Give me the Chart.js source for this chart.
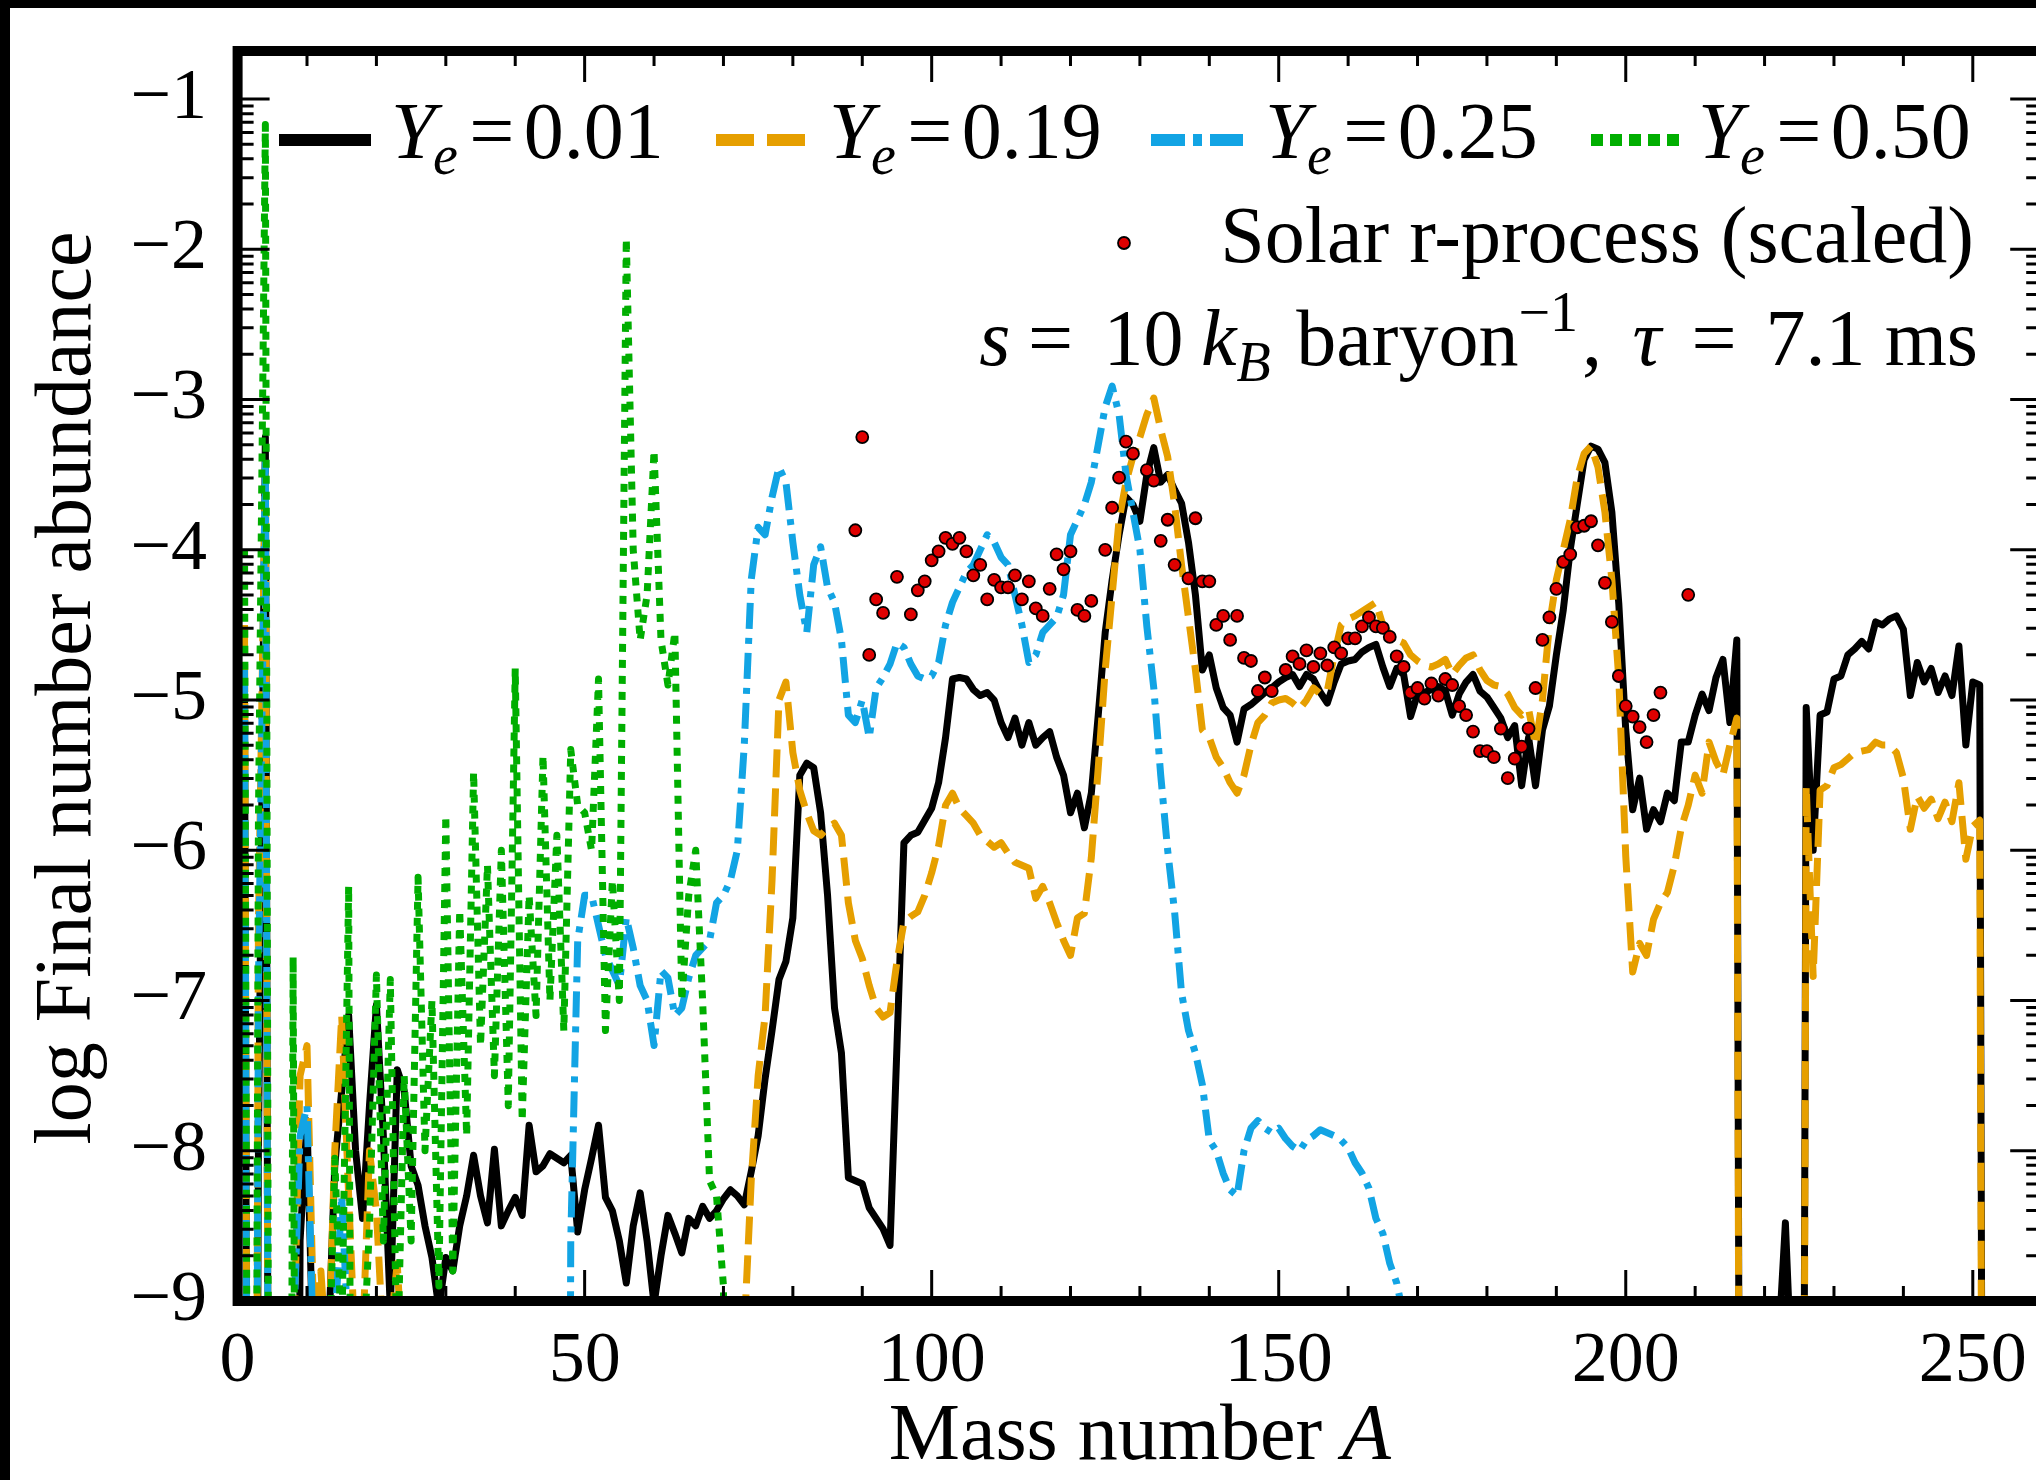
<!DOCTYPE html>
<html>
<head>
<meta charset="utf-8">
<title>Final abundances versus mass number</title>
<script src="https://cdn.jsdelivr.net/npm/chart.js@4.4.1/dist/chart.umd.min.js"></script>
<style>
  html, body { margin: 0; padding: 0; width: 2036px; height: 1480px; overflow: hidden; background: #000; }
  #wrap { position: absolute; left: 10px; top: 8px; width: 2040px; height: 1472px; background: #fff; }
  canvas { display: block; }
</style>
</head>
<body>
<div id="wrap"><canvas id="chart" width="2040" height="1472"></canvas></div>
<script>
// log10 abundance used for nuclei that fall far below the plotted range
const L = -20;

// every series starts at mass number A = 1 and has one value per integer A
const firstMassNumber = 1;

// Ye = 0.01
const abundYe001 = [
  -5.0, L, -8.0, -3.25, L, L, L, L, -8.6, -7.8,
  -9.6, L, -9.4, -8.1, -7.6, -7.1, -8.0, -8.45, -7.7, -7.03,
  -7.9, -9.05, -7.46, -7.6, -8.1, -8.23, -8.5, -8.71, -9.05, -8.71,
  -8.8, -8.5, -8.3, -8.03, -8.3, -8.48, -7.99, -8.5, -8.4, -8.31,
  -8.43, -7.83, -8.14, -8.1, -8.02, -8.05, -8.08, -8.03, -8.54, -8.26,
  -8.05, -7.83, -8.31, -8.4, -8.6, -8.88, -8.5, -8.28, -8.6, -9.02,
  -8.7, -8.43, -8.55, -8.68, -8.45, -8.5, -8.37, -8.45, -8.4, -8.32,
  -8.26, -8.3, -8.36, -8.14, -7.9, -7.52, -7.2, -6.86, -6.74, -6.45,
  -5.5, -5.42, -5.45, -5.75, -6.3, -7.05, -7.35, -8.18, -8.2, -8.22,
  -8.38, -8.45, -8.52, -8.63, -7.3, -5.95, -5.9, -5.88, -5.8, -5.72,
  -5.55, -5.25, -4.86, -4.85, -4.86, -4.93, -4.97, -4.95, -5.0, -5.15,
  -5.25, -5.12, -5.3, -5.15, -5.3, -5.25, -5.21, -5.38, -5.5, -5.75,
  -5.62, -5.85, -5.62, -5.1, -4.55, -4.2, -3.9, -3.65, -3.7, -3.81,
  -3.5, -3.32, -3.55, -3.5, -3.6, -3.69, -3.95, -4.3, -4.8, -4.7,
  -4.92, -5.05, -5.1, -5.28, -5.06, -5.03, -4.99, -4.95, -4.92, -4.88,
  -4.85, -4.83, -4.91, -4.83, -4.86, -4.95, -5.02, -4.88, -4.76, -4.74,
  -4.73, -4.68, -4.65, -4.63, -4.78, -4.91, -4.79, -4.83, -5.11, -4.96,
  -4.95, -4.93, -4.91, -4.94, -5.1, -4.96, -4.88, -4.83, -4.94, -4.98,
  -5.05, -5.12, -5.25, -5.17, -5.57, -5.25, -5.57, -5.2, -5.04, -4.7,
  -4.4, -4.0, -3.7, -3.4, -3.31, -3.33, -3.42, -3.75, -4.36, -5.2,
  -5.73, -5.52, -5.86, -5.73, -5.81, -5.62, -5.67, -5.28, -5.28, -5.1,
  -4.96, -5.07, -4.85, -4.73, -5.15, -4.6, L, L, L, L,
  L, -9.3, -8.48, -9.6, L, -5.05, -6.0, -5.1, -5.08, -4.86,
  -4.84, -4.7, -4.66, -4.61, -4.66, -4.48, -4.5, -4.46, -4.44, -4.53,
  -4.97, -4.75, -4.88, -4.79, -4.95, -4.84, -4.97, -4.64, -5.3, -4.88,
  -4.9, L
];

// Ye = 0.19
const abundYe019 = [
  -4.5, L, -6.5, -3.5, L, L, L, -9.5, -7.5, -7.3,
  -9.2, -8.8, -9.5, -8.0, -7.1, -8.3, -9.4, -9.3, -8.0, -8.4,
  -9.3, -9.2, -8.75, -9.6, L, L, L, L, L, L,
  L, L, L, L, L, L, L, L, L, L,
  L, L, L, L, L, L, L, L, L, L,
  L, L, L, L, L, L, L, L, L, L,
  L, L, L, L, L, L, L, L, L, L,
  L, L, -9.2, -8.2, -7.5, -7.1, -6.2, -5.0, -4.88, -5.35,
  -5.6, -5.75, -5.87, -5.9, -5.85, -5.82, -5.9, -6.35, -6.6, -6.72,
  -6.9, -7.05, -7.11, -7.08, -6.74, -6.48, -6.44, -6.41, -6.3, -6.15,
  -5.97, -5.7, -5.62, -5.72, -5.77, -5.82, -5.9, -5.94, -5.98, -5.95,
  -6.02, -6.08, -6.1, -6.12, -6.32, -6.24, -6.35, -6.48, -6.6, -6.7,
  -6.45, -6.42, -6.05, -5.45, -4.8, -4.3, -3.8, -3.55, -3.38, -3.25,
  -3.1, -2.99, -3.2, -3.38, -3.7, -4.1, -4.45, -4.8, -5.2, -5.25,
  -5.38, -5.45, -5.55, -5.62, -5.5, -5.3, -5.15, -5.1, -5.02, -5.0,
  -4.99, -5.02, -5.06, -5.0, -4.92, -4.96, -4.94, -4.7, -4.5, -4.46,
  -4.44, -4.41, -4.38, -4.35, -4.5, -4.56, -4.6, -4.62, -4.7, -4.74,
  -4.77, -4.78, -4.76, -4.73, -4.83, -4.77, -4.72, -4.7, -4.8, -4.87,
  -4.9, -4.91, -4.96, -5.05, -5.1, -5.06, -5.3, -5.0, -4.5, -4.2,
  -4.0, -3.8, -3.52, -3.36, -3.31, -3.45, -3.75, -4.2, -4.86, -6.04,
  -6.81, -6.62, -6.7, -6.46, -6.35, -6.28, -6.1, -5.85, -5.7, -5.5,
  -5.62, -5.28, -5.41, -5.5, -5.3, -5.12, L, L, L, L,
  L, L, L, L, L, -5.57, -6.84, -5.6, -5.57, -5.45,
  -5.43, -5.39, -5.35, -5.34, -5.33, -5.28, -5.3, -5.3, -5.35, -5.52,
  -5.86, -5.64, -5.72, -5.66, -5.79, -5.68, -5.81, -5.55, -6.06, -5.84,
  -5.8, L
];

// Ye = 0.25
const abundYe025 = [
  -4.8, L, -6.9, -3.4, L, L, L, -9.3, -7.9, -7.7,
  -9.5, L, L, -9.2, -8.3, -9.3, L, L, L, L,
  L, L, L, L, L, L, L, L, L, L,
  L, L, L, L, L, L, L, L, L, L,
  L, L, L, L, L, L, L, -8.6, -6.6, -6.3,
  -6.3, -6.5, -6.7, -6.8, -6.9, -6.45, -6.65, -6.9, -7.0, -7.3,
  -6.8, -6.85, -7.1, -7.05, -6.85, -6.7, -6.65, -6.6, -6.35, -6.3,
  -6.2, -6.0, -5.3, -4.2, -3.85, -3.9, -3.65, -3.45, -3.55, -3.95,
  -4.3, -4.55, -4.1, -3.98, -4.25, -4.35, -4.6, -5.1, -5.15, -5.0,
  -5.25, -4.92, -4.85, -4.76, -4.62, -4.65, -4.76, -4.84, -4.86, -4.84,
  -4.75, -4.5, -4.35, -4.25, -4.15, -4.1, -4.0, -3.9, -3.95, -4.05,
  -4.1, -4.3, -4.5, -4.75, -4.7, -4.55, -4.5, -4.45, -4.3, -3.9,
  -3.8, -3.7, -3.55, -3.3, -3.05, -2.91, -3.1, -3.5, -3.75, -4.0,
  -4.51, -4.92, -5.5, -6.0, -6.41, -6.95, -7.2, -7.35, -7.56, -7.93,
  -8.0, -8.15, -8.26, -8.3, -8.0, -7.85, -7.8, -7.85, -7.88, -7.85,
  -7.92, -7.97, -8.0, -7.93, -7.9, -7.86, -7.88, -7.9, -7.93, -7.98,
  -8.08, -8.15, -8.25, -8.45, -8.55, -8.75, -8.88, -9.1, -9.5, L
];

// Ye = 0.50
const abundYe050 = [
  -4.0, L, -5.8, -1.17, L, L, L, -6.71, L, -9.4,
  L, L, -9.8, -8.05, -9.3, -6.24, L, -9.5, -8.5, -6.83,
  -8.6, -6.86, -9.5, -7.5, -8.6, -6.18, -8.0, -7.0, -8.9, -5.77,
  -8.8, -6.4, -7.9, -5.48, -7.3, -6.1, -7.5, -6.0, -7.7, -4.79,
  -7.8, -6.3, -7.1, -5.37, -7.0, -5.9, -7.2, -5.33, -5.7, -5.75,
  -6.0, -4.86, -7.2, -6.2, -7.0, -1.93, -4.0, -4.6, -4.3, -3.34,
  -4.6, -4.9, -4.55, -7.0, -6.3, -6.0, -7.0, -8.2, -8.3, -8.9,
  L, L
];

// scaled solar r-process pattern
const solarMass = [
  89, 90, 91, 92, 93, 95, 97, 98, 99, 100,
  101, 102, 103, 104, 105, 106, 107, 108, 109, 110,
  111, 112, 113, 114, 115, 116, 117, 118, 119, 120,
  121, 122, 123, 125, 126, 127, 128, 129, 131, 132,
  133, 134, 135, 137, 138, 139, 140, 141, 142, 143,
  144, 145, 146, 147, 148, 149, 151, 152, 153, 154,
  155, 156, 157, 158, 159, 160, 161, 162, 163, 164,
  165, 166, 167, 168, 169, 170, 171, 172, 173, 174,
  175, 176, 177, 178, 179, 180, 181, 182, 183, 184,
  185, 186, 187, 188, 189, 190, 191, 192, 193, 194,
  195, 196, 197, 198, 199, 200, 201, 202, 203, 204,
  205, 209
];
const solarAbund = [
  -3.87, -3.25, -4.7, -4.33, -4.42, -4.18, -4.43, -4.27, -4.21, -4.07,
  -4.01, -3.92, -3.96, -3.92, -4.01, -4.17, -4.1, -4.33, -4.2, -4.25,
  -4.25, -4.17, -4.33, -4.21, -4.39, -4.44, -4.26, -4.03, -4.13, -4.01,
  -4.4, -4.44, -4.34, -4.0, -3.72, -3.52, -3.28, -3.36, -3.47, -3.54,
  -3.94, -3.8, -4.1, -4.19, -3.79, -4.21, -4.21, -4.5, -4.44, -4.6,
  -4.44, -4.72, -4.74, -4.94, -4.85, -4.94, -4.8, -4.71, -4.76, -4.67,
  -4.78, -4.69, -4.77, -4.65, -4.69, -4.59, -4.59, -4.51, -4.45, -4.51,
  -4.52, -4.58, -4.71, -4.78, -4.95, -4.92, -4.99, -4.89, -4.97, -4.86,
  -4.9, -5.04, -5.1, -5.21, -5.34, -5.34, -5.38, -5.19, -5.52, -5.39,
  -5.31, -5.19, -4.92, -4.6, -4.45, -4.26, -4.08, -4.03, -3.85, -3.84,
  -3.81, -3.97, -4.22, -4.48, -4.84, -5.04, -5.11, -5.18, -5.28, -5.1,
  -4.95, -4.3
];

// axis ticks
const xMajorTicks = [0, 50, 100, 150, 200, 250];
const xMinorTicks = [10, 20, 30, 40, 60, 70, 80, 90, 110, 120, 130, 140, 160, 170, 180, 190, 210, 220, 230, 240];
const yMajorTicks = [-9, -8, -7, -6, -5, -4, -3, -2, -1];
const yMinorFactors = [2, 3, 4, 5, 6, 7, 8, 9];

// legend entries
const yeLabels = ['0.01', '0.19', '0.25', '0.50'];

const SERIF = '"Liberation Serif", "Times New Roman", serif';
const COLORS = { ye001: '#000000', ye019: '#E69F00', ye025: '#12A4E4', ye050: '#00AE00', solar: '#E00000' };

const toPoints = vals => vals.map((v, i) => ({ x: firstMassNumber + i, y: v }));
const solarPoints = solarMass.map((a, i) => ({ x: a, y: solarAbund[i] }));
const minusFmt = v => (v < 0 ? '\u2212' + Math.abs(v) : String(v));

const lineStyles = [
  { color: COLORS.ye001, dash: [], legendDash: [], width: 7 },
  { color: COLORS.ye019, dash: [28, 11], legendDash: [38, 13], width: 7 },
  { color: COLORS.ye025, dash: [26, 9, 6, 9], legendDash: [34, 8, 9, 8], width: 7 },
  { color: COLORS.ye050, dash: [8, 8], legendDash: [12, 7], width: 7 }
];
const seriesValues = [abundYe001, abundYe019, abundYe025, abundYe050];
// black drawn lowest, then orange, blue, green; solar points on top
const drawOrder = [4, 3, 2, 1];

const datasets = [
  {
    type: 'scatter', label: 'Solar r-process (scaled)', data: solarPoints, order: 0,
    pointRadius: 6, pointBackgroundColor: COLORS.solar, pointBorderColor: '#000',
    pointBorderWidth: 1.8, showLine: false
  }
];
seriesValues.forEach((vals, i) => {
  datasets.push({
    type: 'line', label: 'Ye=' + yeLabels[i], data: toPoints(vals), order: drawOrder[i],
    borderColor: lineStyles[i].color, borderWidth: lineStyles[i].width,
    borderDash: lineStyles[i].dash, borderJoinStyle: 'round', borderCapStyle: 'butt',
    pointRadius: 0, tension: 0, fill: false
  });
});

// text made of upright / italic / sub / superscript runs
function runFont(r, size) {
  const s = r.script ? size * 0.7 : size;
  return (r.italic ? 'italic ' : '') + s + 'px ' + SERIF;
}
function runsWidth(ctx, runs, size) {
  let w = 0;
  runs.forEach(r => { ctx.font = runFont(r, size); w += ctx.measureText(r.text).width + (r.kern || 0) * size; });
  return w;
}
function drawRuns(ctx, runs, x, baseline, size, align) {
  let cx = align === 'right' ? x - runsWidth(ctx, runs, size) : x;
  ctx.textBaseline = 'alphabetic';
  ctx.textAlign = 'left';
  runs.forEach(r => {
    ctx.font = runFont(r, size);
    const dy = r.script === 'sub' ? size * 0.2 : r.script === 'sup' ? -size * 0.42 : 0;
    ctx.fillText(r.text, cx, baseline + dy);
    cx += ctx.measureText(r.text).width + (r.kern || 0) * size;
  });
}

// inward ticks on all four sides plus the heavy frame
const frameTicks = {
  id: 'frameTicks',
  afterDatasetsDraw(chart) {
    const { ctx, chartArea: a, scales: { x, y } } = chart;
    const major = 32, minor = 16;
    ctx.save();
    ctx.strokeStyle = '#000';
    ctx.lineWidth = 3;
    ctx.lineCap = 'butt';
    ctx.beginPath();
    const vTick = (v, len) => {
      const px = x.getPixelForValue(v);
      ctx.moveTo(px, a.bottom); ctx.lineTo(px, a.bottom - len);
      ctx.moveTo(px, a.top); ctx.lineTo(px, a.top + len);
    };
    const hTick = (v, len) => {
      const py = y.getPixelForValue(v);
      ctx.moveTo(a.left, py); ctx.lineTo(a.left + len, py);
      ctx.moveTo(a.right, py); ctx.lineTo(a.right - len, py);
    };
    xMajorTicks.forEach(v => vTick(v, major - 1));
    xMinorTicks.forEach(v => vTick(v, minor - 1));
    yMajorTicks.forEach(v => hTick(v, major));
    for (let n = Math.floor(y.min) - 1; n < y.max; n++) {
      yMinorFactors.forEach(k => {
        const v = n + Math.log10(k);
        if (v > y.min && v < y.max) hTick(v, minor);
      });
    }
    ctx.stroke();
    ctx.lineWidth = 10;
    ctx.lineJoin = 'miter';
    ctx.strokeRect(a.left, a.top, a.right - a.left, a.bottom - a.top);
    ctx.restore();
  }
};

// legend, parameter line and axis titles
const annotations = {
  id: 'annotations',
  afterDraw(chart) {
    const { ctx, chartArea: a } = chart;
    const size = 80;
    ctx.save();
    ctx.fillStyle = '#000';

    // row 1: the four electron fractions
    const sampleLeft = [41.4, 478.4, 913.4, 1353.4];
    const textLeft = [153.4, 591.4, 1027.4, 1460.4];
    const rowY = a.top + 107, sampleY = a.top + 89;
    yeLabels.forEach((lab, i) => {
      ctx.save();
      ctx.strokeStyle = lineStyles[i].color;
      ctx.lineWidth = 12;
      ctx.lineCap = 'butt';
      ctx.setLineDash(lineStyles[i].legendDash);
      ctx.beginPath();
      ctx.moveTo(a.left + sampleLeft[i], sampleY);
      ctx.lineTo(a.left + sampleLeft[i] + 92, sampleY);
      ctx.stroke();
      ctx.restore();
      drawRuns(ctx, [
        { text: 'Y', italic: true, kern: -0.03 },
        { text: 'e', italic: true, script: 'sub', kern: 0.14 },
        { text: '=', kern: 0.12 },
        { text: lab }
      ], a.left + textLeft[i], rowY, size, 'left');
    });

    // row 2: solar r-process points
    ctx.save();
    ctx.beginPath();
    ctx.arc(a.left + 886.4, a.top + 192, 6, 0, Math.PI * 2);
    ctx.fillStyle = COLORS.solar;
    ctx.fill();
    ctx.lineWidth = 1.8;
    ctx.strokeStyle = '#000';
    ctx.stroke();
    ctx.restore();
    drawRuns(ctx, [{ text: 'Solar r-process (scaled)' }], a.left + 1736.4, a.top + 211, size, 'right');

    // row 3: entropy and expansion time scale
    drawRuns(ctx, [
      { text: 's', italic: true, kern: 0.22 },
      { text: '=', kern: 0.38 },
      { text: '10', kern: 0.22 },
      { text: 'k', italic: true },
      { text: 'B', italic: true, script: 'sub', kern: 0.32 },
      { text: 'baryon' },
      { text: '\u22121', script: 'sup', kern: 0.05 },
      { text: ',', kern: 0.38 },
      { text: '\u03C4', italic: true, kern: 0.38 },
      { text: '=', kern: 0.36 },
      { text: '7.1', kern: 0.24 },
      { text: 'ms' }
    ], a.left + 1740.4, a.top + 314, size, 'right');

    // axis titles
    const cx = (a.left + a.right) / 2;
    const xTitle = [{ text: 'Mass number ' }, { text: 'A', italic: true }];
    const w = runsWidth(ctx, xTitle, size);
    drawRuns(ctx, xTitle, cx - w / 2, a.bottom + 158, size, 'left');

    ctx.save();
    ctx.translate(a.left - 147.6, (a.top + a.bottom) / 2 + 12);
    ctx.rotate(-Math.PI / 2);
    ctx.font = size + 'px ' + SERIF;
    ctx.textAlign = 'center';
    ctx.textBaseline = 'alphabetic';
    ctx.fillText('log Final number abundance', 0, 0);
    ctx.restore();

    ctx.restore();
  }
};

new Chart(document.getElementById('chart'), {
  data: { datasets },
  options: {
    responsive: false,
    animation: false,
    devicePixelRatio: 1,
    events: [],
    layout: { padding: { top: 43, right: 4.4, left: 0, bottom: 0 } },
    plugins: { legend: { display: false }, tooltip: { enabled: false } },
    scales: {
      x: {
        type: 'linear', min: 0, max: 260,
        grid: { display: false, drawTicks: false },
        border: { display: false },
        afterBuildTicks: s => { s.ticks = xMajorTicks.map(v => ({ value: v })); },
        afterFit: s => { s.height = 179; s.paddingLeft = 0; s.paddingRight = 0; },
        ticks: {
          font: { family: SERIF, size: 72 }, color: '#000', padding: 18,
          maxRotation: 0, autoSkip: false, callback: v => minusFmt(v)
        }
      },
      y: {
        type: 'linear', min: -9, max: -0.68,
        grid: { display: false, drawTicks: false },
        border: { display: false },
        afterBuildTicks: s => { s.ticks = yMajorTicks.map(v => ({ value: v })); },
        afterFit: s => { s.width = 227.6; s.paddingTop = 0; s.paddingBottom = 0; },
        ticks: {
          font: { family: SERIF, size: 72 }, color: '#000', padding: 30.6,
          autoSkip: false, callback: v => minusFmt(v)
        }
      }
    }
  },
  plugins: [frameTicks, annotations]
});
</script>
</body>
</html>
